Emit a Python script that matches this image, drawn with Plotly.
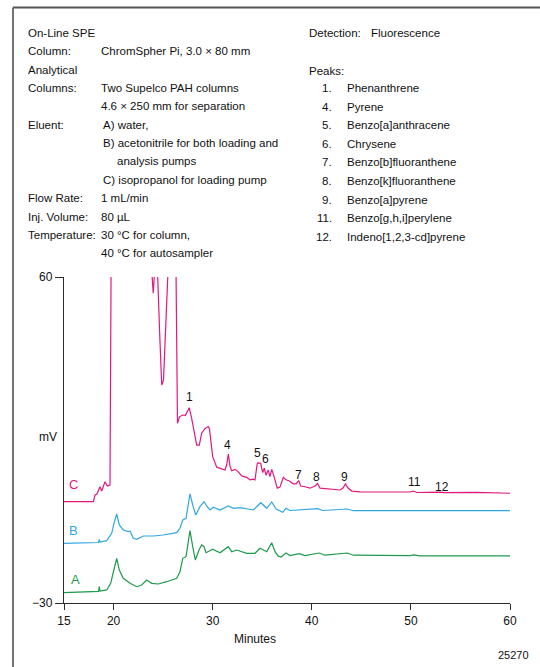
import plotly.graph_objects as go

# ---------------- data (minutes, mV) ----------------
# Trace A (green)
a_t = [15.0, 17.93, 18.48, 18.56, 18.63, 19.31, 19.71, 19.91, 20.32, 20.58, 20.98, 21.66, 22.34, 22.84,
       23.34, 23.85, 24.51, 25.36, 26.37, 26.70, 26.98, 27.31, 27.71, 27.99, 28.25, 28.62, 28.89, 29.13,
       29.33, 30.00, 30.74, 31.58, 31.92, 32.43, 33.43, 34.27, 34.78, 35.45, 35.96, 36.30, 36.60, 36.90,
       37.40, 37.80, 38.74, 39.30, 40.76, 41.30, 43.59, 44.20, 49.90, 50.30, 50.90, 60.0]
a_v = [-27.16, -26.96, -26.8, -25.5, -26.7, -26.4, -24.56, -22.27, -17.66, -20.9, -23.18, -24.56, -25.5,
       -25.03, -23.65, -24.56, -24.75, -24.12, -23.18, -21.36, -17.66, -17.22, -10.04, -14.46, -18.13,
       -15.37, -13.99, -14.46, -16.11, -15.17, -16.11, -14.46, -15.84, -15.37, -16.28, -16.28, -14.9,
       -15.84, -13.35, -15.9, -17.0, -17.3, -16.2, -16.9, -16.4, -16.9, -16.2, -16.8, -16.2, -16.8,
       -16.9, -16.7, -17.0, -17.0]

# Trace B (blue)
b_t = [15.0, 17.93, 18.48, 18.56, 18.63, 19.31, 19.81, 20.04, 20.32, 20.58, 20.98, 21.49, 21.66, 21.99,
       22.34, 23.0, 24.01, 25.02, 26.37, 26.70, 26.98, 27.31, 27.71, 27.99, 28.29, 28.72, 29.13, 29.40,
       29.73, 30.07, 30.74, 31.58, 32.09, 32.76, 34.10, 34.85, 35.45, 35.96, 36.40, 37.07, 37.40, 37.80,
       38.71, 40.60, 41.10, 43.56, 44.20, 60.0]
b_v = [-13.52, -13.43, -13.3, -12.41, -13.2, -12.8, -10.76, -8.0, -5.43, -8.46, -9.84, -10.31, -10.1,
       -12.14, -12.41, -11.5, -11.5, -11.23, -10.59, -9.38, -7.08, -6.61, 0.1, -2.94, -5.7, -3.41, -2.03,
       -3.22, -4.32, -3.58, -4.32, -3.22, -3.85, -3.69, -4.32, -2.31, -3.85, -2.11, -4.05, -4.96, -3.85,
       -4.46, -4.32, -3.96, -4.46, -4.05, -4.52, -4.52]

# Trace C (pink) - goes off scale (>60 mV) between ~19.7 and ~26.3 min
c_t = [15.0, 17.96, 18.13, 18.33, 18.63, 18.80, 19.14, 19.37, 19.64, 19.75, 23.85, 24.00, 24.15, 24.43,
       24.64, 24.86, 25.04, 25.29, 25.50, 26.30, 26.45, 26.65, 26.98, 27.25, 27.64, 27.88, 28.22, 28.39,
       28.65, 28.89, 29.23, 29.56, 29.68, 30.00, 30.41, 30.91, 31.24, 31.41, 31.58, 31.75, 31.92, 32.26,
       32.59, 32.93, 33.43, 33.77, 34.07, 34.27, 34.50, 34.67, 34.85, 35.05, 35.21, 35.38, 35.61, 35.78,
       35.96, 36.19, 36.52, 36.79, 37.13, 37.40, 37.74, 38.14, 38.41, 38.68, 38.88, 39.32, 39.82, 40.33,
       40.58, 40.83, 42.17, 42.85, 43.15, 43.40, 43.66, 44.03, 44.87, 46.55, 48.23, 49.90, 50.25, 50.60,
       53.00, 53.27, 56.64, 59.83, 60.0]
c_v = [-2.03, -2.03, -0.18, 0.1, 2.11, 0.92, 3.49, 2.3, 2.58, 62, 62, 55.5, 62, 62, 45.4, 30.2, 31.6,
       45.4, 62, 62, 19.6, 21.4, 21.9, 21.8, 23.9, 21.0, 15.5, 13.6, 13.6, 16.9, 18.2, 18.7, 18.0, 10.4,
       7.5, 6.9, 6.7, 8.1, 11.1, 7.8, 6.5, 6.9, 6.2, 5.1, 4.7, 4.0, 4.2, 4.0, 8.6, 8.7, 8.5, 6.0, 7.2,
       5.3, 6.7, 4.9, 6.9, 4.9, 1.7, 2.0, 4.7, 4.0, 3.7, 2.9, 2.9, 3.8, 2.3, 2.1, 1.7, 2.3, 3.0, 1.7, 1.4,
       1.2, 1.75, 2.9, 1.75, 0.9, 0.7, 0.7, 0.6, 0.65, 0.9, 0.5, 0.6, 0.45, 0.55, 0.3, 0.3]

# Peak labels
peak_names = ["1", "4", "5", "6", "7", "8", "9", "11", "12"]
peak_t = [27.71, 31.48, 34.50, 35.35, 38.68, 40.49, 43.28, 50.32, 53.10]
peak_v = [26.96, 13.62, 11.33, 9.67, 5.34, 4.88, 4.88, 3.50, 2.12]

# Trace letters
trace_names = ["C", "B", "A"]
trace_label_t = [15.94, 16.00, 16.21]
trace_label_v = [2.58, -10.04, -23.46]

# Axis ticks
x_ticks = [15, 20, 30, 40, 50, 60]
y_ticks = [-30, 60]
y_tick_text = ["\u221230", "60"]

# Conditions text
cond_labels = ["On-Line SPE", "Column:", "Analytical", "Columns:", "", "Eluent:", "", "", "",
               "Flow Rate:", "Inj. Volume:", "Temperature:", ""]
cond_values = ["", "ChromSpher Pi, 3.0 \u00d7 80 mm", "", "Two Supelco PAH columns",
               "4.6 \u00d7 250 mm for separation", "A) water,", "B) acetonitrile for both loading and",
               "analysis pumps", "C) isopropanol for loading pump", "1 mL/min", "80 \u00b5L",
               "30 \u00b0C for column,", "40 \u00b0C for autosampler"]
peak_list_nums = ["1.", "4.", "5.", "6.", "7.", "8.", "9.", "11.", "12."]
peak_list_names = ["Phenanthrene", "Pyrene", "Benzo[a]anthracene", "Chrysene", "Benzo[b]fluoranthene",
                   "Benzo[k]fluoranthene", "Benzo[a]pyrene", "Benzo[g,h,i]perylene", "Indeno[1,2,3-cd]pyrene"]

# ---------------- layout helpers ----------------
W, H = 540, 667
PL, PR, PT, PB = 64, 510, 277, 603   # plot area in pixels
FONT = "Liberation Sans, Arial, Helvetica, sans-serif"
TS = 11.5


def px(x, y):
    return (x - PL) / (PR - PL), (PB - y) / (PB - PT)


PINK = "#e2187f"
BLUE = "#2fa8e1"
GREEN = "#1e9a4c"
AX = "#2b2b2b"

fig = go.Figure()
for t, v, col in [(a_t, a_v, GREEN), (b_t, b_v, BLUE), (c_t, c_v, PINK)]:
    fig.add_trace(go.Scatter(x=t, y=v, mode="lines", line=dict(color=col, width=1.2),
                             hoverinfo="skip", showlegend=False))

ann = []
for name, t, v in zip(peak_names, peak_t, peak_v):
    ann.append(dict(x=t, y=v, xref="x", yref="y", text=name, showarrow=False,
                    font=dict(size=12, color="#111", family=FONT)))
for name, t, v, col in zip(trace_names, trace_label_t, trace_label_v, [PINK, BLUE, GREEN]):
    ann.append(dict(x=t, y=v, xref="x", yref="y", text=name, showarrow=False,
                    font=dict(size=13, color=col, family=FONT)))


def text_at(x, y, s, anchor="left", size=TS):
    xx, yy = px(x, y)
    ann.append(dict(x=xx, y=yy, xref="paper", yref="paper", text=s, showarrow=False,
                    xanchor=anchor, yanchor="middle", font=dict(size=size, color="#111", family=FONT)))


for i, (lab, val) in enumerate(zip(cond_labels, cond_values)):
    y = 33 + i * 18.35
    if lab:
        text_at(26, y, lab)
    if val:
        if val.startswith(("A)", "B)", "C)")):
            vx = 101
        elif val.startswith("analysis"):
            vx = 115
        else:
            vx = 99
        text_at(vx, y, val)

text_at(307, 33, "Detection:")
text_at(369, 33, "Fluorescence")
text_at(307, 70.5, "Peaks:")
for i, (n, s) in enumerate(zip(peak_list_nums, peak_list_names)):
    y = 88.3 + i * 18.55
    text_at(334, y, n, anchor="right")
    text_at(345, y, s)

text_at(48, 437, "mV", anchor="center", size=12)
text_at(255, 639, "Minutes", anchor="center", size=12)
text_at(513, 655, "25270", anchor="center", size=11)

# frame
fx0, fy0 = px(13, 667)
fx1, fy1 = px(540, 7.5)
shapes = [
    dict(type="line", xref="paper", yref="paper", x0=fx0, x1=fx0, y0=fy0, y1=fy1,
         line=dict(color="#444", width=1.5)),
    dict(type="line", xref="paper", yref="paper", x0=fx0, x1=fx1, y0=fy1, y1=fy1,
         line=dict(color="#555", width=2)),
]

fig.update_layout(
    width=W, height=H,
    margin=dict(l=PL, r=W - PR, t=PT, b=H - PB, autoexpand=False),
    paper_bgcolor="white", plot_bgcolor="white",
    xaxis=dict(range=[15, 60], tickvals=x_ticks, ticks="outside", ticklen=6, tickwidth=1.3,
               tickcolor=AX, showline=True, linecolor=AX, linewidth=1.4, showgrid=False,
               zeroline=False, tickfont=dict(size=12, color="#111", family=FONT), fixedrange=True),
    yaxis=dict(range=[-30, 60], tickvals=y_ticks, ticktext=y_tick_text, ticks="outside", ticklen=8,
               tickwidth=1.3, tickcolor=AX, showline=True, linecolor=AX, linewidth=1.4,
               showgrid=False, zeroline=False, tickfont=dict(size=12, color="#111", family=FONT),
               fixedrange=True),
    annotations=ann,
    shapes=shapes,
    font=dict(family=FONT),
)

fig.write_html("out.html", config={"displayModeBar": False},
               post_script="document.body.style.margin='0px';document.body.style.overflow='hidden';")
